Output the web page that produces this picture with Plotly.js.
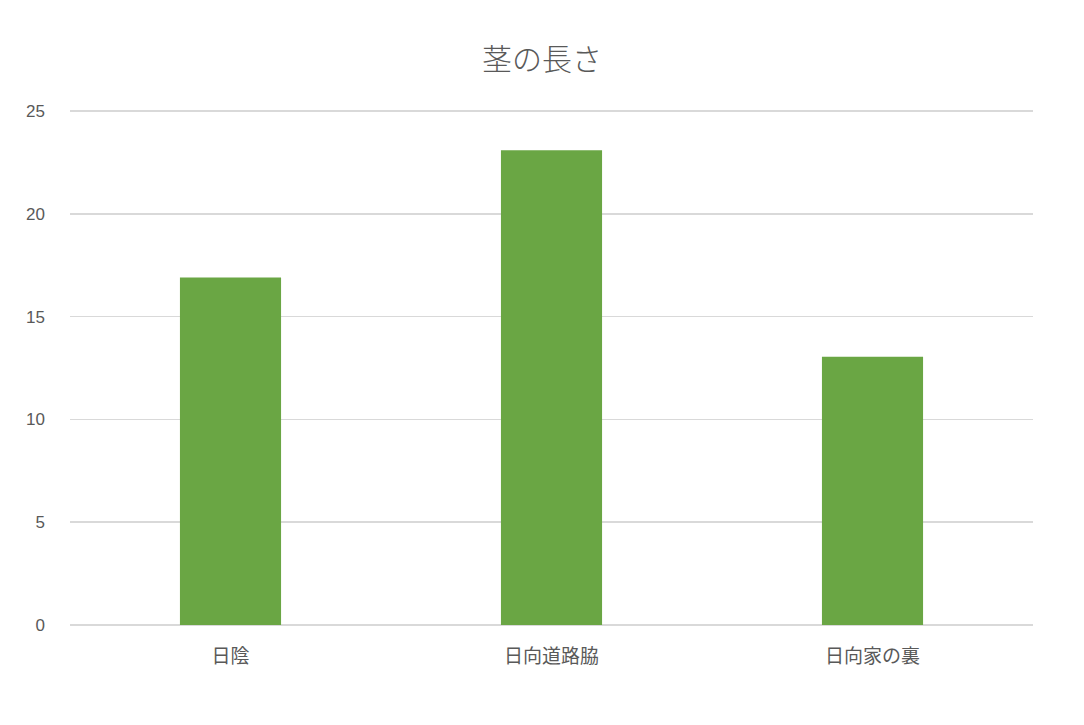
<!DOCTYPE html>
<html>
<head>
<meta charset="utf-8">
<script src="https://cdn.plot.ly/plotly-3.0.1.min.js"></script>
<style>html,body{margin:0;padding:0;background:#fff;}#chart{width:1084px;height:725px;}</style>
</head>
<body>
<div id="chart"></div>
<script>
const categories = ["日陰", "日向道路脇", "日向家の裏"];
const values = [16.9, 23.1, 13.05];
const yTicks = [0, 5, 10, 15, 20, 25];

const fontFam = '"Noto Sans CJK JP", "Noto Sans", sans-serif';
const data = [{
  type: 'bar',
  x: categories,
  y: values,
  marker: {color: '#6aa644', line: {color: '#6aa644', width: 0}},
  width: 0.315,
  hoverinfo: 'x+y'
}];
const layout = {
  width: 1084, height: 725,
  margin: {l: 70, r: 51, t: 108, b: 100},
  paper_bgcolor: '#ffffff', plot_bgcolor: '#ffffff',
  title: {text: '茎の長さ', x: 0.5, xanchor: 'center', y: 0.918, yanchor: 'middle',
          font: {family: fontFam, size: 30, color: '#595959', weight: 300}},
  font: {family: fontFam, color: '#595959'},
  showlegend: false,
  xaxis: {
    showgrid: false, zeroline: false, showline: false, ticks: '',
    tickfont: {family: fontFam, size: 19, color: '#595959'},
    ticklabelstandoff: 18
  },
  yaxis: {
    range: [0, 25.15], tickvals: yTicks, ticktext: yTicks.map(String),
    showgrid: true, gridcolor: '#d9d9d9', gridwidth: 1.5,
    zeroline: true, zerolinecolor: '#d9d9d9', zerolinewidth: 1.5,
    showline: false, ticks: '',
    tickfont: {family: '"Liberation Sans", Arial, sans-serif', size: 17, color: '#595959'},
    ticklabelstandoff: 24
  }
};
Plotly.newPlot('chart', data, layout, {displayModeBar: false, staticPlot: true});
</script>
</body>
</html>
